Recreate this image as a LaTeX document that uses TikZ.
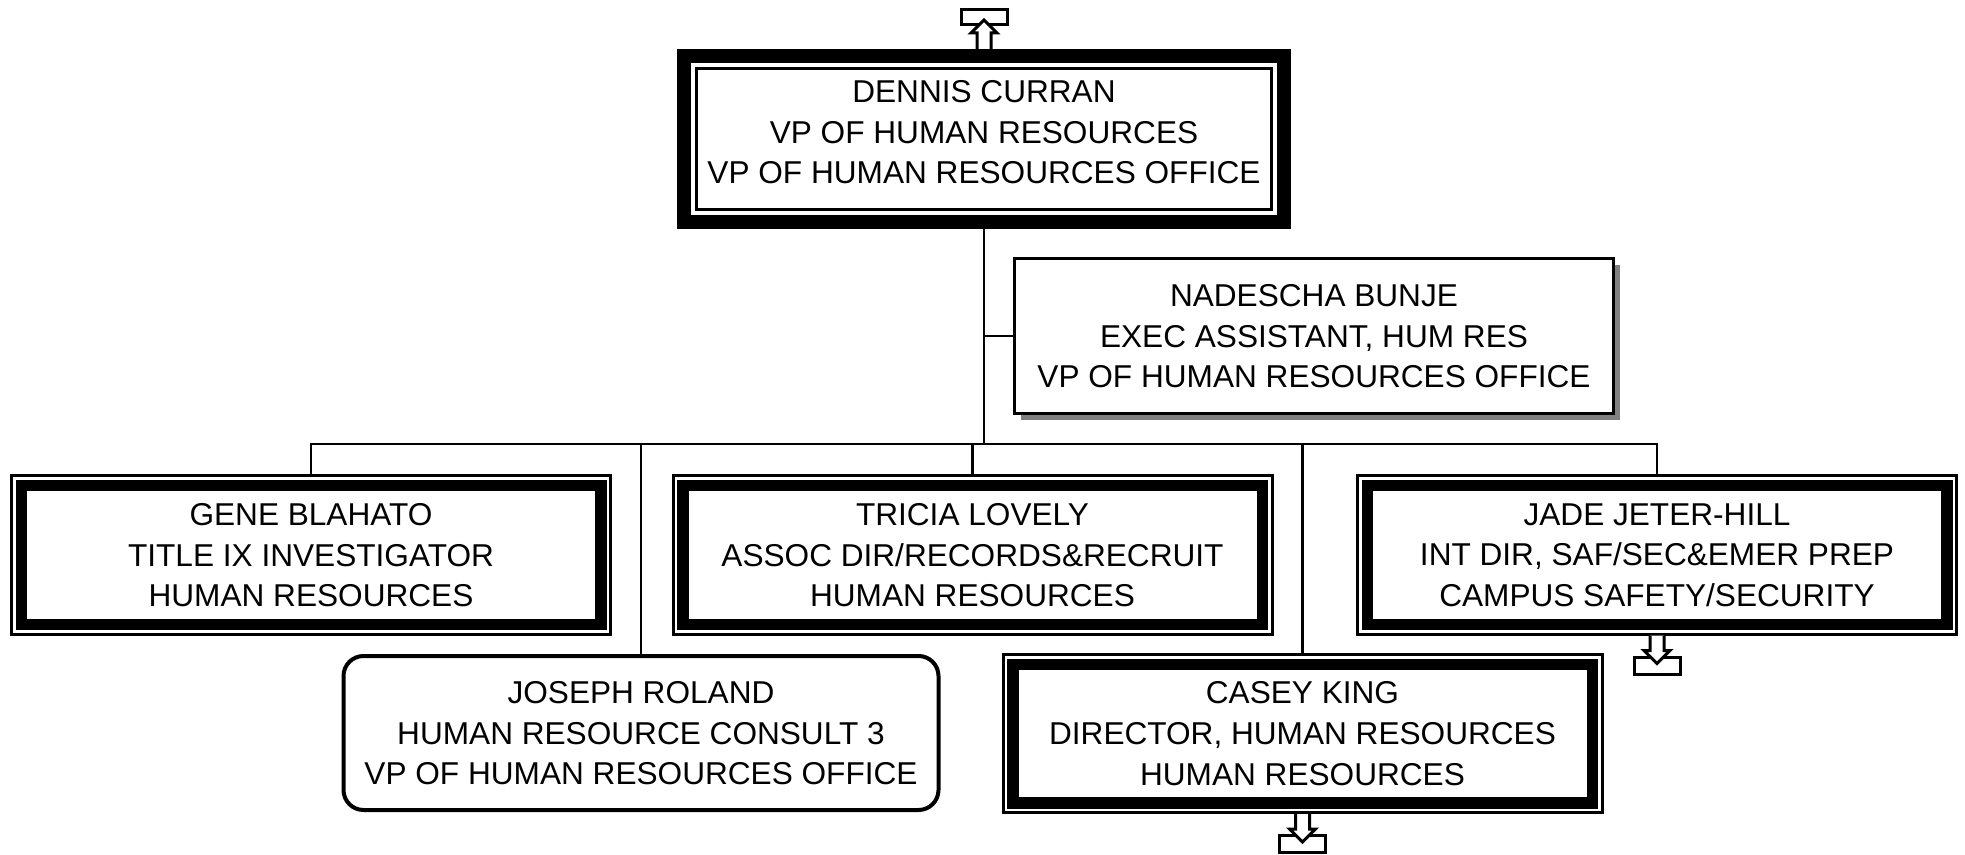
\documentclass[tikz,border=0pt]{standalone}
\usepackage{fontspec}
\setmainfont{Liberation Sans}
\usetikzlibrary{shadows}

\begin{document}
\begin{tikzpicture}[x=0.5pt, y=-0.5pt,
    every node/.style={font=\fontsize{15.8}{20.4}\selectfont, align=center, inner sep=0pt, text depth=0pt},
    link/.style={line width=1.2pt},
    thickthin/.style={draw, line width=7pt, fill=white, minimum width=300pt, minimum height=83pt,
      path picture={\draw[line width=1.35pt] ([shift={(6.2pt,-6.2pt)}]path picture bounding box.north west) rectangle ([shift={(-6.2pt,6.2pt)}]path picture bounding box.south east);}},
    thinthick/.style={draw, line width=1.5pt, fill=white, minimum width=299.5pt, minimum height=79pt,
      path picture={\draw[line width=5.75pt] ([shift={(4.875pt,-4.875pt)}]path picture bounding box.north west) rectangle ([shift={(-4.875pt,4.875pt)}]path picture bounding box.south east);}},
    plainbox/.style={draw, line width=1.35pt, fill=white, minimum width=299.65pt, minimum height=77.65pt,
      drop shadow={shadow xshift=3.25pt, shadow yshift=-3.25pt, fill=gray, opacity=1}},
    roundbox/.style={draw, line width=2pt, fill=white, rounded corners=10pt, minimum width=297.5pt, minimum height=77pt},
    portbox/.style={draw, line width=1.5pt},
    portarrow/.style={draw, fill=white, line width=1.5pt, line join=miter}]
    \useasboundingbox (0,0) rectangle (1965,855);

    % Head of the office
    \node[thickthin, text depth=7pt] (dennis) at (984,139) {DENNIS CURRAN\\VP OF HUMAN RESOURCES\\VP OF HUMAN RESOURCES OFFICE};

    % Assistant
    \node[plainbox] (nadescha) at (1314,336) {NADESCHA BUNJE\\EXEC ASSISTANT, HUM RES\\VP OF HUMAN RESOURCES OFFICE};

    % Direct reports, upper row
    \node[thinthick] (gene) at (311,555) {GENE BLAHATO\\TITLE IX INVESTIGATOR\\HUMAN RESOURCES};
    \node[thinthick] (tricia) at (972.5,555) {TRICIA LOVELY\\ASSOC DIR/RECORDS\&RECRUIT\\HUMAN RESOURCES};
    \node[thinthick] (jade) at (1657,555) {JADE JETER-HILL\\INT DIR, SAF/SEC\&EMER PREP\\CAMPUS SAFETY/SECURITY};

    % Direct reports, lower row
    \node[roundbox] (joseph) at (641,733) {JOSEPH ROLAND\\HUMAN RESOURCE CONSULT 3\\VP OF HUMAN RESOURCES OFFICE};
    \node[thinthick] (casey) at (1302.5,733.5) {CASEY KING\\DIRECTOR, HUMAN RESOURCES\\HUMAN RESOURCES};

    % Reporting lines
    \coordinate (bus) at (984,444);
    \draw[link] (dennis.south) -- (bus);
    \draw[link] (dennis.south |- nadescha.west) -- (nadescha.west);
    \draw[link] (gene.north) -- (gene.north |- bus) -- (jade.north |- bus) -- (jade.north);
    \foreach \n in {tricia, joseph, casey}
      \draw[link] (\n.north |- bus) -- (\n.north);

    % Off-page link upwards
    \draw[portbox] ([shift={(-23,-39.5)}]dennis.north) rectangle ([shift={(23,-24)}]dennis.north);
    \draw[portarrow] ([shift={(-7,0)}]dennis.north) -- ++(0,-16) -- ++(-6,0) -- ++(13,-13) -- ++(13,13) -- ++(-6,0) -- ++(0,16);

    % Off-page links downwards
    \foreach \n in {jade, casey} {
      \draw[portbox] ([shift={(-23,21.5)}]\n.south) rectangle ([shift={(23,38.5)}]\n.south);
      \draw[portarrow] ([shift={(-7,0)}]\n.south) -- ++(0,15) -- ++(-6,0) -- ++(13,13) -- ++(13,-13) -- ++(-6,0) -- ++(0,-15);
    }
\end{tikzpicture}
\end{document}
